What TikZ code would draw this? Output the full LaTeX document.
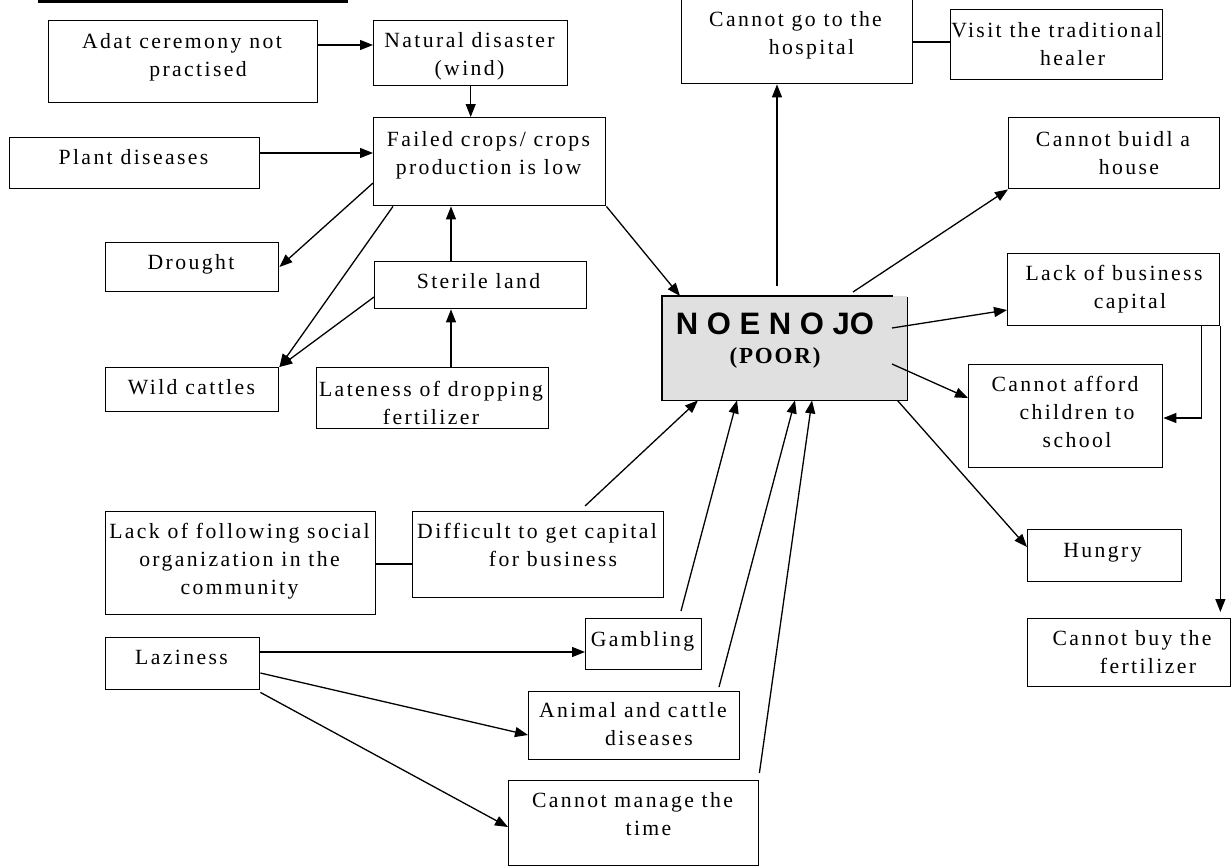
\documentclass[tikz,border=0pt]{standalone}
\usepackage{fontspec}
\setmainfont{Liberation Serif}[LetterSpace=11]
\newfontfamily\noefont{Liberation Sans}
\newfontfamily\poorfont{Liberation Serif}[LetterSpace=8]
\usetikzlibrary{arrows.meta}
\definecolor{noefill}{RGB}{224,224,224}
\tikzset{
  x=1pt, y=-1pt,
  box/.style={draw, line width=1.4pt, inner sep=0pt, anchor=north west},
  txt/.style={anchor=north, inner sep=0pt, align=center, font=\fontsize{21.7}{28}\selectfont},
  arr/.style={line width=1.3pt, -{Triangle[length=13pt,width=10pt]}},
  link/.style={line width=1.3pt},
}
% indent of a following line
\newcommand\ind{\hspace*{32pt}}
% rectangle node from its corners: name, x1, y1, x2, y2
\newcommand\cell[5]{\node[box, minimum width={#4-#2}, minimum height={#5-#3}] (#1) at (#2,#3) {};}
% text block: name, centre x, first baseline, text
\newcommand\lbl[4]{\node[txt] (#1) at ({#2},{#3-15}) {\rule{0pt}{15pt}#4};}
\begin{document}
\begin{tikzpicture}
\useasboundingbox (0,0) rectangle (1231,867);

% heading rule
\fill (38,0) rectangle (348,3.5);

% boxes
\cell{adat}{48}{20}{317}{102}
\cell{nat}{373}{20}{567}{85}
\cell{fail}{373}{117}{605}{205}
\cell{plant}{9}{137}{259}{188}
\cell{hosp}{681}{-2}{912}{83}
\cell{healer}{950}{9}{1162}{79}
\cell{house}{1008}{117}{1219}{188}
\cell{drought}{105}{242}{278}{291}
\cell{wild}{105}{367}{278}{411}
\cell{sterile}{374}{261}{586}{308}
\cell{late}{316}{367}{548}{428}
\cell{lackbiz}{1007}{253}{1219}{325}
\cell{afford}{968}{364}{1162}{467}
\cell{hungry}{1027}{529}{1181}{581}
\cell{buy}{1027}{618}{1230}{686}
\cell{follow}{105}{511}{375}{614}
\cell{diff}{412}{511}{663}{597}
\cell{lazy}{105}{637}{259}{689}
\cell{gamb}{585}{618}{701}{669}
\cell{animal}{528}{691}{739}{759}
\cell{manage}{508}{780}{758}{865}

% central box
\node[fill=noefill, inner sep=0pt, minimum width=245, minimum height=104, anchor=north west] (noe) at (662,296) {};
\draw[link] ([xshift=231pt]noe.north west) -- (noe.north west) -- (noe.south west) -- (noe.south east) -- ([yshift=-1pt]noe.north east);
\node[anchor=north, inner sep=0pt, align=center, font=\fontsize{23}{29}\selectfont] (noe-t) at (775,311)
  {\rule{0pt}{23pt}{\noefont\fontsize{31}{31}\selectfont\bfseries N O E N O JO}\\{\poorfont\fontsize{23}{29}\selectfont\bfseries (POOR)}};

% texts
\lbl{adat-t}{182}{48}{Adat ceremony not\\\ind practised}
\lbl{nat-t}{469.5}{47}{Natural disaster\\(wind)}
\lbl{fail-t}{488.5}{146}{Failed crops/ crops\\production is low}
\lbl{plant-t}{133.5}{164}{Plant diseases}
\lbl{hosp-t}{795.5}{26}{Cannot go to the\\\ind hospital}
\lbl{healer-t}{1056.5}{37}{Visit the traditional\\\ind healer}
\lbl{house-t}{1113}{146}{Cannot buidl a\\\ind house}
\lbl{drought-t}{191}{269}{Drought}
\lbl{wild-t}{191.5}{394}{Wild cattles}
\lbl{sterile-t}{478.5}{288}{Sterile land}
\lbl{late-t}{431}{396}{Lateness of dropping\\fertilizer}
\lbl{lackbiz-t}{1114}{280}{Lack of business\\\ind capital}
\lbl{afford-t}{1065}{391}{Cannot afford\\\hspace*{24pt}children to\\\hspace*{24pt}school}
\lbl{hungry-t}{1102.5}{557}{Hungry}
\lbl{buy-t}{1132}{645}{Cannot buy the\\\ind fertilizer}
\lbl{follow-t}{239.5}{538}{Lack of following social\\organization in the\\community}
\lbl{diff-t}{537}{538}{Difficult to get capital\\\ind for business}
\lbl{lazy-t}{181.5}{664}{Laziness}
\lbl{gamb-t}{642.5}{646}{Gambling}
\lbl{animal-t}{633}{717}{Animal and cattle\\\ind diseases}
\lbl{manage-t}{632.5}{807}{Cannot manage the\\\ind time}

% causes on the left
\draw[arr] ([yshift=-25pt]adat.north east) -- ([yshift=-25pt]nat.north west);
\draw[arr] (nat.south) -- (fail.north -| nat.south);
\draw[arr] ([yshift=-16pt]plant.north east) -- ([yshift=-36pt]fail.north west);
\draw[arr] ([yshift=-66pt]fail.north west) -- ([yshift=-25pt]drought.north east);
\draw[arr] ([xshift=20pt]fail.south west) -- (wild.north east);
\draw[arr] ([yshift=-36pt]sterile.north west) -- (wild.north east);
\draw[arr] ([xshift=77pt]sterile.north west) -- ([xshift=78pt]fail.south west);
\draw[arr] ([xshift=135pt]late.north west) -- ([xshift=77pt]sterile.south west);
\draw[arr] (fail.south east) -- ([xshift=18pt]noe.north west);

% effects on the right
\draw[arr] ([shift={(115pt,10pt)}]noe.north west) -- ([xshift=96pt]hosp.south west);
\draw[link] ([yshift=-44pt]hosp.north east) -- ([yshift=-33pt]healer.north west);
\draw[arr] ([shift={(191pt,4pt)}]noe.north west) -- (house.south west);
\draw[arr] ([shift={(230pt,-32pt)}]noe.north west) -- ([yshift=-57pt]lackbiz.north west);
\draw[arr] ([shift={(230pt,-68pt)}]noe.north west) -- ([yshift=-34pt]afford.north west);
\draw[arr] ([xshift=-19pt]lackbiz.south east) |- ([yshift=-54pt]afford.north east);
\draw[arr] (lackbiz.south east) -- ([shift={(-11pt,6pt)}]buy.north east);
\draw[arr] ([xshift=-10pt]noe.south east) -- ([yshift=-18pt]hungry.north west);

% causes below
\draw[link] ([yshift=-53pt]follow.north east) -- ([yshift=-53pt]diff.north west);
\draw[arr] ([shift={(173pt,5pt)}]diff.north west) -- ([xshift=36pt]noe.south west);
\draw[arr] ([shift={(96pt,7pt)}]gamb.north west) -- ([xshift=75pt]noe.south west);
\draw[arr] ([shift={(191pt,4pt)}]animal.north west) -- ([xshift=133pt]noe.south west);
\draw[arr] ([yshift=7pt]manage.north east) -- ([xshift=150pt]noe.south west);
\draw[arr] ([yshift=-15pt]lazy.north east) -- ([yshift=-34pt]gamb.north west);
\draw[arr] ([yshift=-36pt]lazy.north east) -- ([yshift=-44pt]animal.north west);
\draw[arr] ([yshift=-2pt]lazy.south east) -- ([yshift=-47pt]manage.north west);
\end{tikzpicture}
\end{document}
